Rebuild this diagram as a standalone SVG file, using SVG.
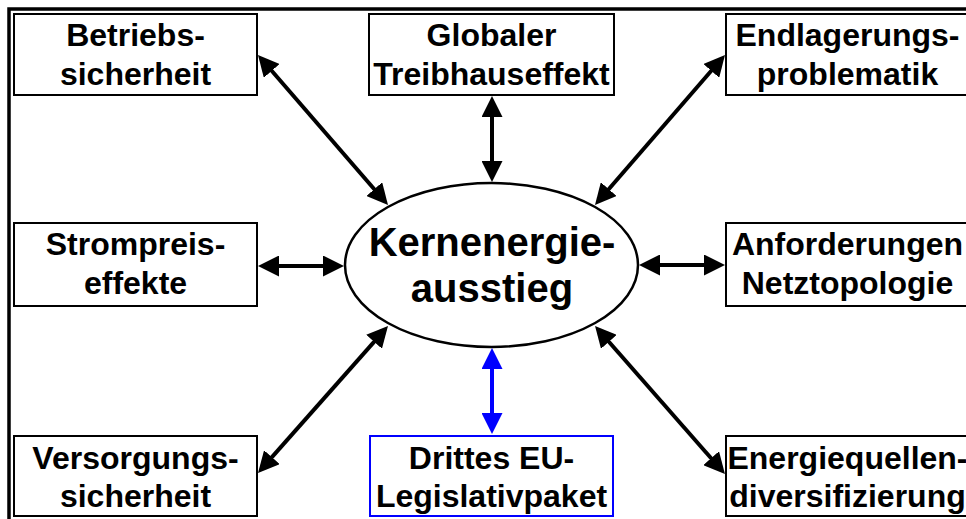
<svg xmlns="http://www.w3.org/2000/svg" width="966" height="519" viewBox="0 0 966 519">
<style>
.box{fill:#fff;stroke:#000;stroke-width:2}
.blue{stroke:#0000ff}
.t{font-family:"Liberation Sans",Arial,sans-serif;font-weight:bold;font-size:32px;text-anchor:middle;fill:#000}
.c{font-size:40px}
.con{fill:none;stroke:#000;stroke-width:4;marker-start:url(#ah);marker-end:url(#ah)}
.conb{fill:none;stroke:#0000ff;stroke-width:4;marker-start:url(#ahb);marker-end:url(#ahb)}
</style>
<defs>
<marker id="ah" markerUnits="userSpaceOnUse" markerWidth="21" markerHeight="21" refX="10" refY="10.5" orient="auto-start-reverse" viewBox="0 0 21 21"><path d="M0,0 L21,10.5 L0,21 z" fill="#000"/></marker>
<marker id="ahb" markerUnits="userSpaceOnUse" markerWidth="21" markerHeight="21" refX="10" refY="10.5" orient="auto-start-reverse" viewBox="0 0 21 21"><path d="M0,0 L21,10.5 L0,21 z" fill="#0000ff"/></marker>
</defs>
<rect x="0" y="0" width="966" height="519" fill="#fff"/>
<rect x="9" y="9" width="1000" height="600" fill="none" stroke="#000" stroke-width="3.5"/>
<g id="connectors">
<path class="con" d="M492,107 L492,171"/>
<path class="con" d="M269,266 L333,266"/>
<path class="con" d="M650,265 L714,265"/>
<path class="con" d="M265.2,63.3 L380.8,196.7"/>
<path class="con" d="M602.2,196.7 L717.8,63.3"/>
<path class="con" d="M380.7,334.3 L265.3,464.7"/>
<path class="con" d="M602.3,334.3 L717.7,465.7"/>
<path class="conb" d="M492,359 L492,423"/>
</g>
<g id="center">
<ellipse cx="491.5" cy="265" rx="146.5" ry="82" fill="#fff" stroke="#000" stroke-width="2.5"/>
<text class="t c" x="492" y="256">Kernenergie-</text>
<text class="t c" x="492" y="302">ausstieg</text>
</g>
<g id="betriebssicherheit">
<rect class="box" x="14" y="14" width="243" height="81"/>
<text class="t" x="135.5" y="46">Betriebs-</text>
<text class="t" x="135.5" y="85">sicherheit</text>
</g>
<g id="treibhauseffekt">
<rect class="box" x="369" y="14" width="245" height="81"/>
<text class="t" x="491.5" y="46">Globaler</text>
<text class="t" x="491.5" y="85">Treibhauseffekt</text>
</g>
<g id="endlagerung">
<rect class="box" x="726" y="14" width="243" height="81"/>
<text class="t" x="847.5" y="46">Endlagerungs-</text>
<text class="t" x="847.5" y="85">problematik</text>
</g>
<g id="strompreis">
<rect class="box" x="14" y="223" width="243" height="83"/>
<text class="t" x="135.5" y="255">Strompreis-</text>
<text class="t" x="135.5" y="294">effekte</text>
</g>
<g id="netztopologie">
<rect class="box" x="726" y="223" width="243" height="83"/>
<text class="t" x="847.5" y="255">Anforderungen</text>
<text class="t" x="847.5" y="294">Netztopologie</text>
</g>
<g id="versorgung">
<rect class="box" x="14" y="436" width="243" height="80"/>
<text class="t" x="135.5" y="469">Versorgungs-</text>
<text class="t" x="135.5" y="507">sicherheit</text>
</g>
<g id="eu-paket">
<rect class="box blue" x="370" y="436" width="243" height="80"/>
<text class="t" x="491.5" y="469">Drittes EU-</text>
<text class="t" x="491.5" y="507">Legislativpaket</text>
</g>
<g id="diversifizierung">
<rect class="box" x="726" y="436" width="243" height="80"/>
<text class="t" x="847.5" y="469">Energiequellen-</text>
<text class="t" x="847.5" y="507">diversifizierung</text>
</g>
</svg>
